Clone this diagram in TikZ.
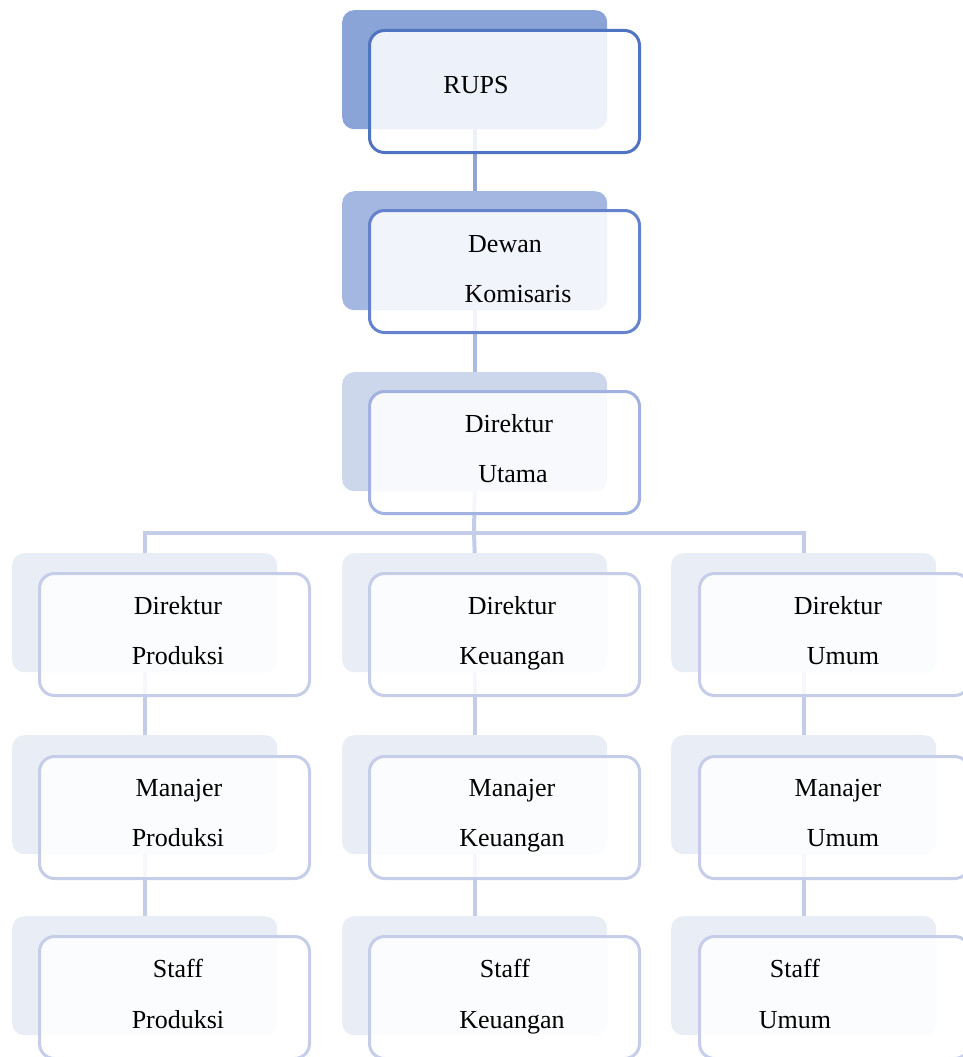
\documentclass[tikz,border=0pt]{standalone}
\usepackage{fontspec}
\setmainfont{Liberation Serif}
\begin{document}
\begin{tikzpicture}[x=1pt,y=-1pt,
  back/.style={draw=none,rounded corners=12pt,minimum width=265pt,minimum height=119pt,inner sep=0pt,anchor=north west},
  front/.style={rounded corners=15pt,line width=3pt,fill=white,fill opacity=0.85,minimum width=270pt,minimum height=122pt,inner sep=0pt,anchor=north west},
  lbl/.style={font=\fontsize{26}{30}\selectfont,inner sep=0pt,text height=18pt,text depth=4pt},
  conn/.style={line width=4pt}]
\useasboundingbox (0,0) rectangle (962,1057);
\definecolor{bA}{HTML}{8AA4D8}\definecolor{fA}{HTML}{4F74C2}\definecolor{cA}{HTML}{90A5D6}
\definecolor{bB}{HTML}{A3B7E0}\definecolor{fB}{HTML}{6483CC}\definecolor{cB}{HTML}{ABBAE1}
\definecolor{bC}{HTML}{CCD7EC}\definecolor{fC}{HTML}{A2B2E0}\definecolor{cC}{HTML}{C4CDE8}
\definecolor{bD}{HTML}{E9EDF6}\definecolor{fD}{HTML}{C5CDE8}
% back shapes
\node[back,fill=bA] (rB) at (342,10) {};
\node[back,fill=bB] (dwB) at (342,191) {};
\node[back,fill=bC] (utB) at (342,372) {};
\foreach \n/\x in {p/12,k/342,u/671}{
  \node[back,fill=bD] (d\n B) at (\x,553) {};
  \node[back,fill=bD] (m\n B) at (\x,735) {};
  \node[back,fill=bD] (s\n B) at (\x,916) {};
}
% connectors
\coordinate (bus) at (474,533);
\draw[conn,cA] (rB.south) -- (dwB.north);
\draw[conn,cB] (dwB.south) -- (utB.north);
\draw[conn,cC] (utB.south) -- (bus);
\draw[conn,cC] (dpB.north) |- (bus) -| (duB.north);
\draw[conn,cC] (bus) -- (dkB.north);
\foreach \n in {p,k,u}{
  \draw[conn,cC] (d\n B.south) -- (m\n B.north);
  \draw[conn,cC] (m\n B.south) -- (s\n B.north);
}
% front shapes
\node[front,draw=fA] (rF) at (368,29) {};
\node[front,draw=fB] (dwF) at (368,209) {};
\node[front,draw=fC] (utF) at (368,390) {};
\foreach \n/\x in {p/38,k/368,u/698}{
  \node[front,draw=fD] (d\n F) at (\x,572) {};
  \node[front,draw=fD] (m\n F) at (\x,755) {};
  \node[front,draw=fD] (s\n F) at (\x,935) {};
}
% labels
\node[lbl] (t1) at (476,86) {RUPS};
\node[lbl] (t2) at (505,245) {Dewan};
\node[lbl] (t3) at (518,295) {Komisaris};
\node[lbl] (t4) at (509,425) {Direktur};
\node[lbl] (t5) at (513,475) {Utama};
\node[lbl] (t6) at (178,607) {Direktur};
\node[lbl] (t7) at (178,657) {Produksi};
\node[lbl] (t8) at (512,607) {Direktur};
\node[lbl] (t9) at (512,657) {Keuangan};
\node[lbl] (t10) at (838,607) {Direktur};
\node[lbl] (t11) at (843,657) {Umum};
\node[lbl] (t12) at (179,789) {Manajer};
\node[lbl] (t13) at (178,839) {Produksi};
\node[lbl] (t14) at (512,789) {Manajer};
\node[lbl] (t15) at (512,839) {Keuangan};
\node[lbl] (t16) at (838,789) {Manajer};
\node[lbl] (t17) at (843,839) {Umum};
\node[lbl] (t18) at (178,970) {Staff};
\node[lbl] (t19) at (178,1021) {Produksi};
\node[lbl] (t20) at (505,970) {Staff};
\node[lbl] (t21) at (512,1021) {Keuangan};
\node[lbl] (t22) at (795,970) {Staff};
\node[lbl] (t23) at (795,1021) {Umum};
\end{tikzpicture}
\end{document}
